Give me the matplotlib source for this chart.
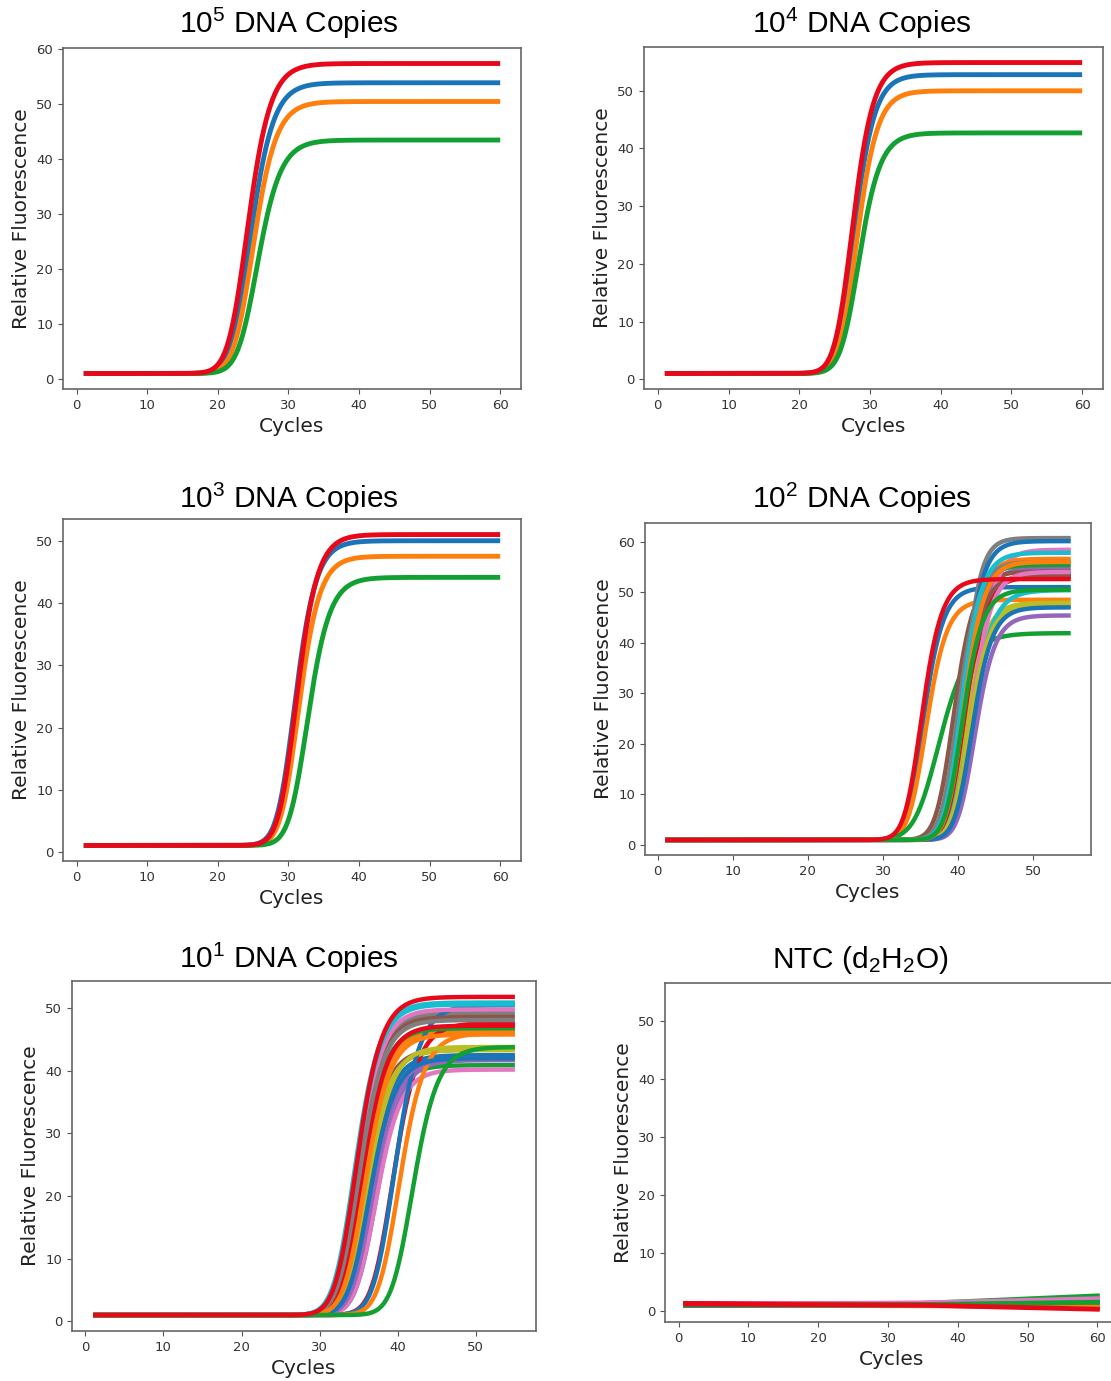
import numpy as np
import matplotlib.pyplot as plt

plt.rcParams["mathtext.fontset"] = "custom"
plt.rcParams["mathtext.rm"] = "Liberation Sans"
plt.rcParams["mathtext.it"] = "Liberation Sans:italic"

# colour cycle used by the original plots (matplotlib tab10, a bit more saturated)
COLORS = ["#1a74b8", "#ff7f0e", "#12a032", "#e8081a", "#9467bd",
          "#8c564b", "#e377c2", "#7f7f7f", "#bcbd22", "#17becf"]

BASELINE = 1.0
SHAPE = 2.0  # asymmetry exponent of the fitted amplification curves

# ---- 10^5 copies: plateau, half-rise cycle, slope (one entry per well)
e5_plateau = [53.8, 50.4, 43.4, 57.3]
e5_ct = [24.8, 25.2, 25.8, 24.4]
e5_slope = [0.56, 0.56, 0.55, 0.56]

# ---- 10^4 copies
e4_plateau = [52.8, 50.0, 42.7, 54.9]
e4_ct = [27.9, 28.3, 28.6, 27.7]
e4_slope = [0.62, 0.62, 0.6, 0.62]

# ---- 10^3 copies
e3_plateau = [50.1, 47.6, 44.2, 51.1]
e3_ct = [31.1, 31.6, 32.9, 31.3]
e3_slope = [0.61, 0.61, 0.58, 0.61]

# ---- 10^2 copies (24 wells)
e2_plateau = [51.0, 48.5, 41.9, 53.5, 54.8, 54.1, 58.4, 60.7, 47.9, 50.4,
              60.1, 56.6, 55.4, 53.0, 45.4, 53.3, 54.0, 56.0, 47.3, 57.8,
              47.0, 56.0, 50.5, 52.6]
e2_ct = [35.5, 35.9, 37.7, 41.3, 41.0, 39.6, 42.3, 40.9, 41.2, 41.8,
         40.8, 40.4, 40.2, 41.0, 42.4, 40.8, 41.9, 40.2, 41.6, 40.6,
         42.0, 40.9, 40.7, 35.3]
e2_slope = [0.68, 0.66, 0.47, 0.68, 0.68, 0.66, 0.68, 0.85, 0.68, 0.6,
            0.72, 0.68, 0.68, 0.68, 0.68, 0.68, 0.68, 0.68, 0.68, 0.68,
            0.68, 0.68, 0.68, 0.68]

# ---- 10^1 copies (24 wells)
e1_plateau = [42.5, 46.3, 40.9, 47.6, 41.7, 43.4, 40.2, 49.2, 43.3, 50.9,
              50.5, 46.0, 46.8, 47.2, 42.0, 48.6, 49.8, 48.1, 43.8, 50.6,
              42.0, 45.8, 43.8, 51.8]
e1_ct = [36.2, 35.6, 36.4, 39.6, 37.5, 35.6, 37.4, 35.0, 35.9, 34.7,
         39.8, 40.4, 35.3, 35.6, 37.0, 35.1, 35.0, 35.2, 36.3, 34.8,
         36.6, 36.0, 42.1, 34.9]
e1_slope = [0.57] * 24

# ---- no template control: fluorescence at cycles 1, 35 and 60
ntc_cycles = [1, 35, 60]
ntc_values = [
    [1.0, 1.0, 1.2], [1.1, 1.2, 1.5], [1.0, 1.3, 2.6], [1.2, 1.0, 0.6],
    [1.0, 1.1, 1.4], [1.0, 1.1, 1.3], [1.1, 1.4, 2.1], [1.0, 1.0, 1.1],
    [1.0, 1.1, 1.2], [1.0, 1.2, 1.7], [1.1, 1.1, 1.3], [1.0, 0.9, 0.8],
    [1.0, 1.0, 1.0], [1.3, 1.1, 1.0], [1.0, 1.2, 1.6], [1.0, 1.0, 0.9],
    [1.1, 1.3, 1.9], [1.0, 1.0, 1.0], [1.0, 1.1, 1.2], [1.0, 1.1, 1.4],
    [1.0, 1.0, 1.1], [1.1, 1.0, 0.7], [1.0, 1.1, 1.5], [1.2, 1.0, 0.3],
]

W, H = 1111, 1381


def amplification(cycles, plateau, ct, slope):
    """Asymmetric logistic curve; ct is the cycle of half rise."""
    x0 = ct + np.log(2 ** (1 / SHAPE) - 1) / slope
    frac = (1 + np.exp(-slope * (cycles - x0))) ** (-SHAPE)
    return BASELINE + (plateau - BASELINE) * frac


def add_panel(fig, left, top, right, bottom):
    return fig.add_axes([left / W, 1 - bottom / H, (right - left) / W, (bottom - top) / H])


def style(ax, label_size=14.5):
    for spine in ax.spines.values():
        spine.set_color("#666666")
        spine.set_linewidth(1.2)
    ax.tick_params(labelsize=9.5, colors="#555555", labelcolor="#333333")
    ax.set_xlabel("Cycles", fontsize=label_size, color="#222222")
    ax.set_ylabel("Relative Fluorescence", fontsize=label_size, color="#222222")


def draw_wells(ax, last_cycle, plateau, ct, slope, lw=3.5):
    cycles = np.linspace(1, last_cycle, 400)
    for i, (p, c, k) in enumerate(zip(plateau, ct, slope)):
        ax.plot(cycles, amplification(cycles, p, c, k), color=COLORS[i % 10], lw=lw,
                solid_capstyle="butt")


fig = plt.figure(figsize=(W / 100, H / 100), dpi=100)

panels = [
    ((63, 48, 521, 389), 60, e5_plateau, e5_ct, e5_slope, r"10$^{5}$ DNA Copies", (289, 33)),
    ((644, 47, 1103, 389), 60, e4_plateau, e4_ct, e4_slope, r"10$^{4}$ DNA Copies", (862, 33)),
    ((63, 519, 521, 861), 60, e3_plateau, e3_ct, e3_slope, r"10$^{3}$ DNA Copies", (289, 508)),
    ((645, 523, 1091, 855), 55, e2_plateau, e2_ct, e2_slope, r"10$^{2}$ DNA Copies", (862, 508)),
    ((72, 981, 536, 1331), 55, e1_plateau, e1_ct, e1_slope, r"10$^{1}$ DNA Copies", (289, 968)),
]

for box, last_cycle, plateau, ct, slope, title, title_pos in panels:
    ax = add_panel(fig, *box)
    draw_wells(ax, last_cycle, plateau, ct, slope, lw=3.5 if len(plateau) < 10 else 3.2)
    style(ax)
    fig.text(title_pos[0] / W, 1 - title_pos[1] / H, title, ha="center", va="baseline",
             fontsize=21.5, family="Liberation Sans")

# NTC panel (runs off the right edge like the original figure)
ax = add_panel(fig, 665, 983, 1118, 1322)
for i, vals in enumerate(ntc_values):
    ax.plot(ntc_cycles, vals, color=COLORS[i % 10], lw=3.5)
ax.set_ylim(-1.9, 56.5)
style(ax)
fig.text(860 / W, 1 - 968 / H, r"NTC (d$_{2}$H$_{2}$O)", ha="center", va="baseline",
         fontsize=21.5, family="Liberation Sans")

fig.savefig("out.png", dpi=100, facecolor="white")
